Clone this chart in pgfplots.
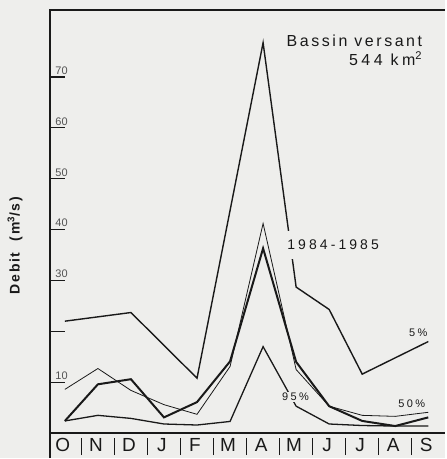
\documentclass[border=0pt]{standalone}
\usepackage{fontspec}
\setmainfont{Liberation Sans}
\usepackage{pgfplots}
\pgfplotsset{compat=1.18}
\definecolor{bg}{RGB}{238,238,236}
\definecolor{ink}{RGB}{25,25,25}
\newfontfamily\spaced[LetterSpace=22]{Liberation Sans}
\newfontfamily\spacedt[LetterSpace=16]{Liberation Sans}
\newfontfamily\spacedb[LetterSpace=12]{Liberation Sans}
\begin{document}
\begin{tikzpicture}[x=1pt,y=1pt]
\fill[bg] (0,0) rectangle (446,459);
\begin{axis}[
  at={(50pt,0pt)}, anchor=south west,
  scale only axis, width=396pt, height=449pt,
  xmin=-0.453, xmax=11.51, ymin=-4.9, ymax=83.14,
  axis line style={draw=none},
  xtick={0,...,11},
  xticklabels={O,N,D,J,F,M,A,M,J,J,A,S},
  xticklabel style={anchor=center, yshift=13pt, xshift=-2pt, font=\fontsize{19}{19}\selectfont, text=ink},
  x tick style={draw=none},
  ytick={10,20,...,70},
  yticklabels={10,,30,40,50,60,70},
  ytick pos=left,
  tick align=inside,
  major tick length=15pt,
  y tick style={line width=1.3pt, ink},
  yticklabel style={anchor=south west, xshift=2pt, yshift=-1pt, font=\fontsize{11}{11}\selectfont, text=ink!75},
  /pgf/number format/assume math mode=true,
  clip=false,
]
% frame
\draw[ink, line width=1.8pt] (axis cs:-0.453,-4.9) -- (axis cs:-0.453,83.14) -- (axis cs:11.51,83.14);
\draw[ink, line width=1.8pt] (axis cs:-0.453,0) -- (axis cs:11.51,0);
\pgfplotsinvokeforeach{0.5,1.5,2.5,3.5,4.5,5.5,6.5,7.5,8.5,9.5,10.5}
  {\draw[ink, line width=0.6pt] (axis cs:#1,-4.3) -- (axis cs:#1,-0.9);}

% 5 %
\addplot[ink, line width=1.4pt] coordinates {
 (0,22.0) (2,23.7) (4,10.8) (6,76.7) (7,28.7) (8,24.3) (9,11.6) (11,18.0)};
% 50 % (thin)
\addplot[ink, line width=0.8pt] coordinates {
 (0,8.6) (1,12.7) (2,8.4) (3,5.6) (4,3.7) (5,13.1) (6,41.2) (7,12.5) (8,5.3) (9,3.5) (10,3.3) (11,4.1)};
% 1984-1985 (thick)
\addplot[ink, line width=2.0pt] coordinates {
 (0,2.4) (1,9.6) (2,10.6) (3,3.1) (4,6.1) (5,14.1) (6,36.3) (7,14.0) (8,5.3) (9,2.4) (10,1.4) (11,3.1)};
% 95 %
\addplot[ink, line width=1.3pt] coordinates {
 (0,2.4) (1,3.5) (2,2.9) (3,1.8) (4,1.6) (5,2.3) (6,17.0) (7,5.3) (8,1.8) (9,1.5) (10,1.4) (11,1.4)};

\node[anchor=east, inner xsep=0pt, font=\spacedt\fontsize{16}{16}\selectfont, text=ink] at (axis cs:10.82,77.1) {Bassin versant};
\node[anchor=east, inner xsep=0pt, font=\spaced\fontsize{16}{16}\selectfont, text=ink] at (axis cs:10.82,73.6) {544 km\textsuperscript{2}};
\node[anchor=west, fill=bg, inner xsep=1pt, inner ysep=9pt, font=\spaced\fontsize{14}{14}\selectfont, text=ink] at (axis cs:6.7,37.0) {1984-1985};
\node[font=\spaced\fontsize{11}{11}\selectfont, text=ink] at (axis cs:10.7,19.8) {5\%};
\node[font=\spaced\fontsize{11}{11}\selectfont, text=ink] at (axis cs:10.5,5.8) {50\%};
\node[fill=bg, inner sep=1.5pt, font=\spaced\fontsize{11}{11}\selectfont, text=ink] at (axis cs:6.98,7.1) {95\%};
\end{axis}
\node[rotate=90, font=\spacedb\fontsize{14}{14}\bfseries, text=ink] at (15,213) {Debit\ \ (m\textsuperscript{3}/s)};
\end{tikzpicture}
\end{document}
